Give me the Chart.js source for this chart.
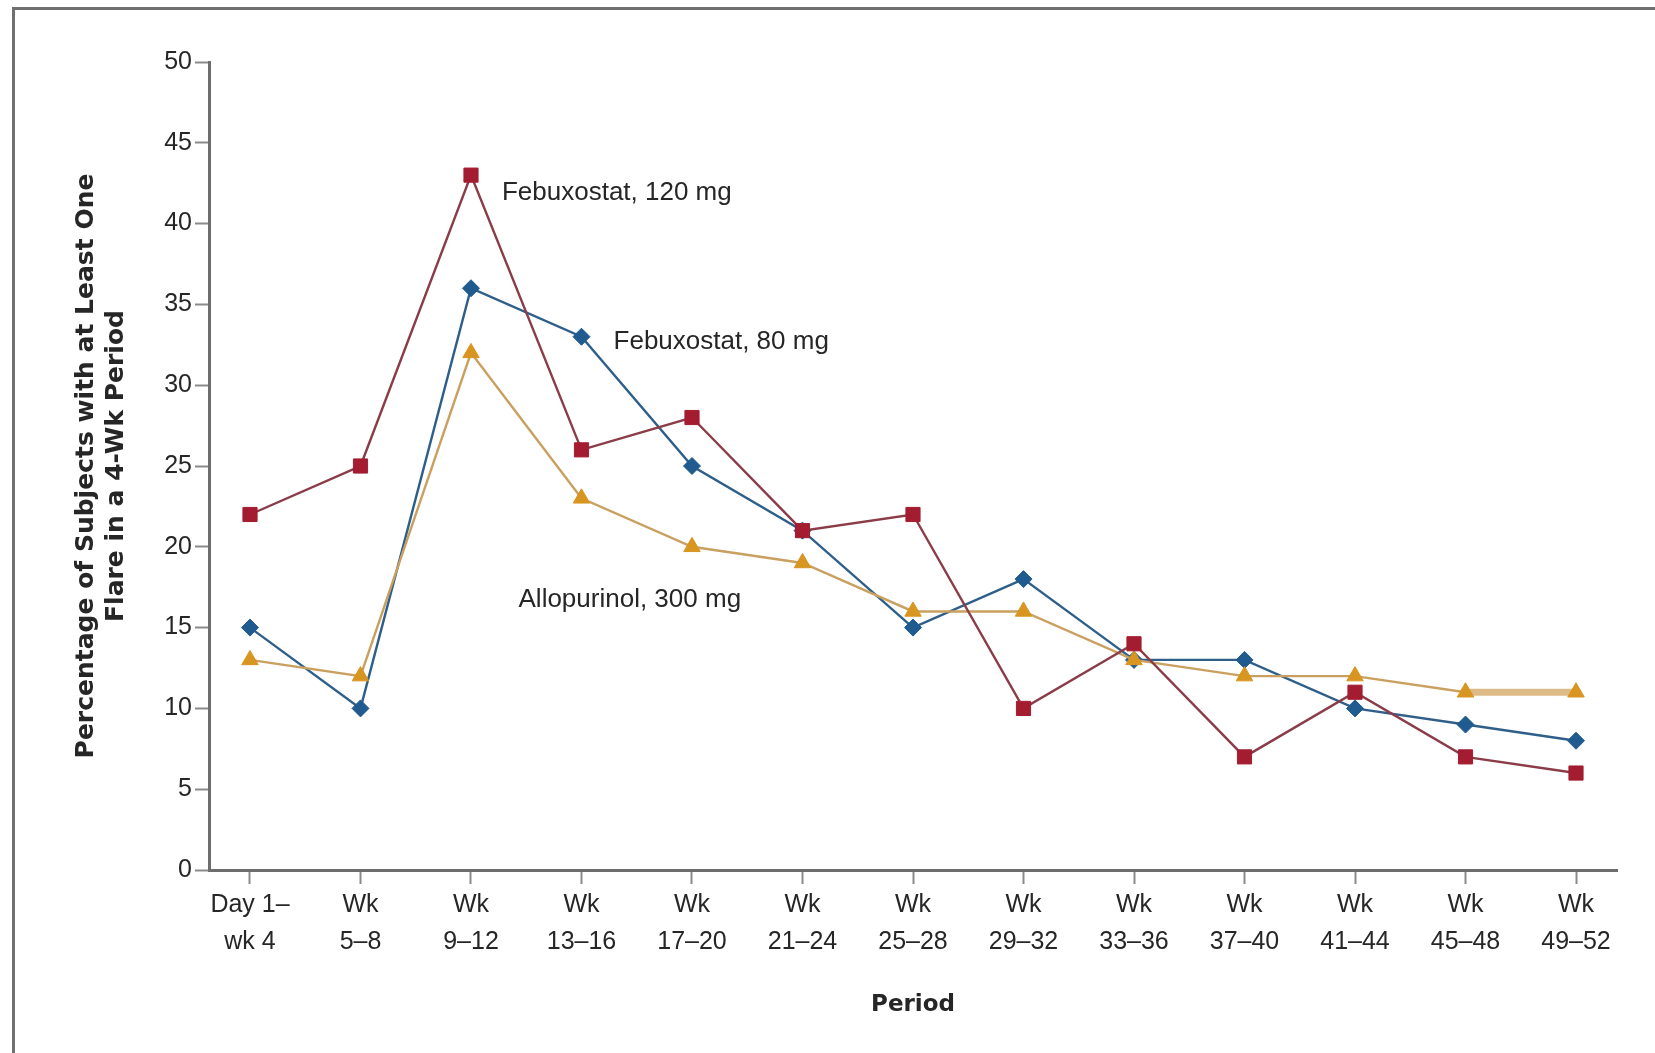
<!DOCTYPE html>
<html>
<head>
<meta charset="utf-8">
<title>Gout flares by 4-week period</title>
<script src="https://cdn.jsdelivr.net/npm/chart.js@4/dist/chart.umd.min.js"></script>
<style>
  html, body { margin: 0; padding: 0; background: #ffffff; }
  #wrap { width: 1655px; height: 1053px; position: relative; }
</style>
</head>
<body>
<div id="wrap"><canvas id="flares" width="1655" height="1053"></canvas></div>
<script>
// Period labels (two lines each)
const periods = [
  ['Day 1–', 'wk 4'], ['Wk', '5–8'], ['Wk', '9–12'], ['Wk', '13–16'], ['Wk', '17–20'],
  ['Wk', '21–24'], ['Wk', '25–28'], ['Wk', '29–32'], ['Wk', '33–36'], ['Wk', '37–40'],
  ['Wk', '41–44'], ['Wk', '45–48'], ['Wk', '49–52']
];

// Percentage of subjects with at least one flare, per period
const febuxostat120 = [22, 25, 43, 26, 28, 21, 22, 10, 14, 7, 11, 7, 6];
const febuxostat80  = [15, 10, 36, 33, 25, 21, 15, 18, 13, 13, 10, 9, 8];
const allopurinol300 = [13, 12, 32, 23, 20, 19, 16, 16, 13, 12, 12, 11, 11];

// Y-axis tick values
const yTickValues = [0, 5, 10, 15, 20, 25, 30, 35, 40, 45, 50];

// Series names, shown as in-plot labels
const seriesNames = ['Febuxostat, 120 mg', 'Febuxostat, 80 mg', 'Allopurinol, 300 mg'];
// Where each name sits, in axis units (period index, percentage)
const nameAnchors = [[2.28, 41.9], [3.29, 32.7], [2.43, 16.7]];

const toPoints = arr => arr.map((v, i) => ({ x: i, y: v }));

const TEXT = '#262626';
const AXIS = '#6d6d6d';
const TICK_FONT = { family: "'Liberation Sans', Arial, sans-serif", size: 25, lineHeight: '37px' };
const TITLE_FONT = { family: "'DejaVu Sans', sans-serif", size: 25, weight: 'bold', lineHeight: '30px' };

// Outer frame around the figure
const framePlugin = {
  id: 'frame',
  beforeDraw(chart) {
    const ctx = chart.ctx;
    ctx.save();
    ctx.fillStyle = '#ffffff';
    ctx.fillRect(0, 0, chart.width, chart.height);
    ctx.strokeStyle = '#707070';
    ctx.lineWidth = 3;
    ctx.strokeRect(13.5, 8.5, chart.width + 20, chart.height + 20);
    ctx.restore();
  }
};

// Series names placed next to their lines
const namesPlugin = {
  id: 'seriesNames',
  afterDatasetsDraw(chart) {
    const { ctx, scales } = chart;
    ctx.save();
    ctx.font = "26px 'Liberation Sans', Arial, sans-serif";
    ctx.fillStyle = TEXT;
    ctx.textAlign = 'left';
    ctx.textBaseline = 'middle';
    seriesNames.forEach((name, i) => {
      const [ax, ay] = nameAnchors[i];
      ctx.fillText(name, scales.x.getPixelForValue(ax), scales.y.getPixelForValue(ay));
    });
    ctx.restore();
  }
};

new Chart(document.getElementById('flares'), {
  type: 'line',
  data: {
    datasets: [
      {
        label: seriesNames[0],
        data: toPoints(febuxostat120),
        borderColor: '#8a3c48',
        borderWidth: 2.4,
        pointStyle: 'rect',
        pointRadius: 10,
        pointBackgroundColor: '#a41c30',
        pointBorderColor: '#a41c30',
        pointBorderWidth: 1,
        tension: 0
      },
      {
        label: seriesNames[2],
        data: toPoints(allopurinol300),
        borderColor: '#c9a060',
        borderWidth: 2.4,
        segment: {
          borderWidth: c => (c.p0DataIndex === allopurinol300.length - 2 ? 7 : 2.4),
          borderColor: c => (c.p0DataIndex === allopurinol300.length - 2 ? '#dcbb86' : '#c9a060')
        },
        pointStyle: 'triangle',
        pointRadius: 9.5,
        pointBackgroundColor: '#d8951f',
        pointBorderColor: '#d8951f',
        pointBorderWidth: 1,
        tension: 0
      },
      {
        label: seriesNames[1],
        data: toPoints(febuxostat80),
        borderColor: '#2e5f8a',
        borderWidth: 2.4,
        pointStyle: 'rectRot',
        pointRadius: 8.5,
        pointBackgroundColor: '#1f5b8f',
        pointBorderColor: '#1f5b8f',
        pointBorderWidth: 1,
        tension: 0
      }
    ]
  },
  options: {
    responsive: false,
    devicePixelRatio: 1,
    animation: false,
    events: [],
    layout: { padding: { left: 0, top: 62, right: 38, bottom: 0 } },
    plugins: {
      legend: { display: false },
      tooltip: { enabled: false }
    },
    scales: {
      x: {
        type: 'linear',
        min: -0.371,
        max: 12.371,
        afterFit: s => { s.height = 183; },
        afterBuildTicks: s => { s.ticks = periods.map((_, i) => ({ value: i })); },
        ticks: {
          autoSkip: false,
          maxRotation: 0,
          padding: 3,
          color: TEXT,
          font: TICK_FONT,
          callback: v => periods[v]
        },
        grid: {
          drawOnChartArea: false,
          drawTicks: true,
          tickLength: 14,
          tickWidth: 2,
          tickColor: '#8a8a8a'
        },
        border: { display: true, color: AXIS, width: 3 },
        title: {
          display: true,
          text: 'Period',
          color: TEXT,
          font: { family: "'DejaVu Sans', sans-serif", size: 23, weight: 'bold', lineHeight: '30px' },
          padding: { top: 0, bottom: 33 }
        }
      },
      y: {
        min: 0,
        max: 50,
        afterFit: s => { s.width = 209; },
        afterBuildTicks: s => { s.ticks = yTickValues.map(v => ({ value: v })); },
        ticks: {
          padding: 3,
          color: TEXT,
          font: { family: "'Liberation Sans', Arial, sans-serif", size: 25 }
        },
        grid: {
          drawOnChartArea: false,
          drawTicks: true,
          tickLength: 14,
          tickWidth: 2,
          tickColor: '#8a8a8a'
        },
        border: { display: true, color: AXIS, width: 3 },
        title: {
          display: true,
          text: ['Percentage of Subjects with at Least One', 'Flare in a 4-Wk Period'],
          color: TEXT,
          font: TITLE_FONT,
          padding: { top: 71, bottom: 0 }
        }
      }
    }
  },
  plugins: [framePlugin, namesPlugin]
});
</script>
</body>
</html>
